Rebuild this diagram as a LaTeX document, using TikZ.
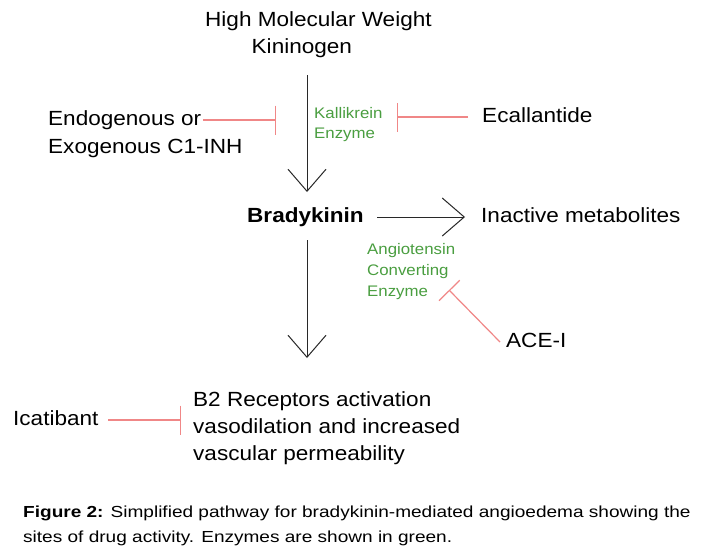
\documentclass[tikz,border=0pt]{standalone}
\usepackage{fontspec}
\setmainfont{Liberation Sans}[FakeStretch=1.1]
\newfontfamily\capfont{Liberation Sans}[FakeStretch=1.19]
\usetikzlibrary{arrows.meta}
\definecolor{enzgreen}{RGB}{74,158,64}
\definecolor{inhred}{RGB}{240,135,135}
\definecolor{arrowgray}{RGB}{40,40,40}
\tikzset{
  bigtxt/.style={inner sep=0pt, anchor=base west, font=\fontsize{20.5}{24}\selectfont},
  enztxt/.style={inner sep=0pt, anchor=base west, text=enzgreen, font=\fontsize{15.3}{18}\selectfont},
  captxt/.style={inner sep=0pt, anchor=base west, font=\capfont\fontsize{16}{18}\selectfont},
  flow/.style={draw=arrowgray, line width=1pt, -{Straight Barb[length=22pt,width=38pt,line width=1pt]}},
  inhibit/.style={draw=inhred, line width=1.2pt, -{Bar[width=29pt,line width=1.2pt]}},
}
\begin{document}
\begin{tikzpicture}[x=1pt,y=-1pt]
\useasboundingbox[fill=white] (0,0) rectangle (703,557);
% texts
\node[bigtxt] (hmw1) at (205,26.5) {High Molecular Weight};
\node[bigtxt] (hmw2) at (251.5,53.5) {Kininogen};
\node[bigtxt] (c1a) at (48,125) {Endogenous or};
\node[bigtxt] (c1b) at (48,153) {Exogenous C1-INH};
\node[enztxt] (kal1) at (314,118.5) {Kallikrein};
\node[enztxt] (kal2) at (314,138.5) {Enzyme};
\node[bigtxt] (ecal) at (482,122) {Ecallantide};
\node[bigtxt, font=\fontsize{20.5}{24}\selectfont\bfseries] (brady) at (247,222) {Bradykinin};
\node[bigtxt] (inact) at (481,222) {Inactive metabolites};
\node[enztxt] (ace1) at (367,254) {Angiotensin};
\node[enztxt] (ace2) at (367,275) {Converting};
\node[enztxt] (ace3) at (367,296) {Enzyme};
\node[bigtxt] (acei) at (506,347) {ACE-I};
\node[bigtxt] (icat) at (13,425) {Icatibant};
\node[bigtxt] (b2a) at (193,406) {B2 Receptors activation};
\node[bigtxt] (b2b) at (193,433) {vasodilation and increased};
\node[bigtxt] (b2c) at (193,460) {vascular permeability};
\node[captxt] (cap1) at (23,517) {\textbf{Figure 2:} Simplified pathway for bradykinin-mediated angioedema showing the};
\node[captxt] (cap2) at (23,542) {sites of drug activity. Enzymes are shown in green.};
% connector end points
\coordinate (hk-out) at (307,75);
\coordinate (brady-in) at (307,192);
\coordinate (brady-right) at (377,217);
\coordinate (inact-in) at (465,217);
\coordinate (brady-down) at (307,240);
\coordinate (b2-in) at (307,358);
\coordinate (c1-out) at (203,120);
\coordinate (kal-left) at (276,120);
\coordinate (ecal-out) at (468,117);
\coordinate (kal-right) at (397,117);
\coordinate (acei-out) at (500,342);
\coordinate (ace-bar) at (449,290);
\coordinate (icat-out) at (108,420);
\coordinate (b2-left) at (181,420);
% flow arrows
\draw[flow] (hk-out) -- (brady-in);
\draw[flow] (brady-right) -- (inact-in);
\draw[flow] (brady-down) -- (b2-in);
% inhibitions
\draw[inhibit] (c1-out) -- (kal-left);
\draw[inhibit] (ecal-out) -- (kal-right);
\draw[inhibit] (acei-out) -- (ace-bar);
\draw[inhibit] (icat-out) -- (b2-left);
\end{tikzpicture}
\end{document}
